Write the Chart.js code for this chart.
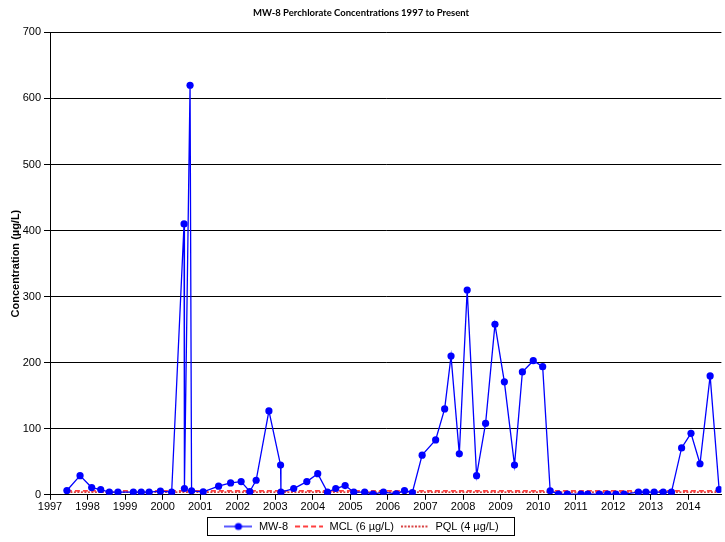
<!DOCTYPE html>
<html>
<head>
<meta charset="utf-8">
<script src="https://cdn.jsdelivr.net/npm/chart.js@4.4.1/dist/chart.umd.min.js"></script>
<style>
	html, body { margin: 0; padding: 0; background: #fff; }
</style>
</head>
<body>
<canvas id="mw8-chart" width="725" height="542"></canvas>
<script>
// sample dates as decimal years
const sampleDates = [
	1997.45, 1997.80, 1998.11, 1998.35, 1998.58, 1998.81, 1999.22, 1999.43, 1999.64, 1999.94,
	2000.24, 2000.57, 2000.58, 2000.73, 2000.77, 2001.08, 2001.49, 2001.81, 2002.09, 2002.32,
	2002.49, 2002.83, 2003.14, 2003.15, 2003.49, 2003.84, 2004.13, 2004.39, 2004.61, 2004.86,
	2005.09, 2005.38, 2005.60, 2005.88, 2006.22, 2006.44, 2006.65, 2006.91, 2007.27, 2007.51,
	2007.68, 2007.90, 2008.11, 2008.36, 2008.60, 2008.85, 2009.10, 2009.37, 2009.58, 2009.87,
	2010.12, 2010.32, 2010.54, 2010.78, 2011.14, 2011.32, 2011.63, 2011.85, 2012.07, 2012.29,
	2012.67, 2012.87, 2013.09, 2013.33, 2013.55, 2013.82, 2014.07, 2014.31, 2014.58, 2014.82
];
const mw8 = [
	6.5, 29, 11, 8, 4, 4, 4, 4, 4, 5.5,
	4, 410, 9.5, 620, 6, 4.5, 13, 18, 20, 5,
	22, 127, 45, 4, 9.5, 20, 32, 4, 9.5, 14,
	4, 4, 1, 4, 1.5, 6.5, 3.5, 60, 83, 130,
	210, 62, 310, 29, 108, 258, 171, 45, 186, 203,
	194, 6, 1, 1, 1, 1, 1, 1, 1, 1,
	4, 4, 4, 4, 4, 71, 93, 47, 180, 8
];
const mclLevel = 6;
const pqlLevel = 4;
const seriesNames = ['MW-8', 'MCL (6 µg/L)', 'PQL (4 µg/L)'];
const yearStart = 1997;
const yearEnd = 2014.88;

const firstDate = sampleDates[0];
const lastDate = sampleDates[sampleDates.length - 1];

// little canvases used as legend symbols
const legendSymbol = (color, dash, dot) => {
	const c = document.createElement('canvas');
	c.width = 28;
	c.height = 10;
	const ctx = c.getContext('2d');
	ctx.strokeStyle = color;
	ctx.lineWidth = 1.3;
	ctx.setLineDash(dash);
	ctx.beginPath();
	ctx.moveTo(0, 5);
	ctx.lineTo(28, 5);
	ctx.stroke();
	if (dot) {
		ctx.fillStyle = color;
		ctx.beginPath();
		ctx.arc(14, 5, 3.6, 0, Math.PI * 2);
		ctx.fill();
	}
	return c;
};
const symbols = [
	legendSymbol('#0000ff', [], true),
	legendSymbol('#ff0000', [5, 3], false),
	legendSymbol('#cc0000', [2, 1.5], false),
];

const legendFrame = {
	id: 'legendFrame',
	afterDraw(chart) {
		const boxes = chart.legend && chart.legend.legendHitBoxes;
		if (!boxes || !boxes.length) return;
		const ctx = chart.ctx;
		const left = Math.min(...boxes.map((b) => b.left)) - 16;
		const right = Math.max(...boxes.map((b) => b.left + b.width)) + 16;
		const top = boxes[0].top - 4;
		const bottom = boxes[0].top + boxes[0].height + 3;
		ctx.save();
		ctx.strokeStyle = '#000';
		ctx.lineWidth = 1;
		ctx.strokeRect(Math.round(left) + 0.5, Math.round(top) + 0.5, Math.round(right - left), Math.round(bottom - top));
		ctx.restore();
	},
};

new Chart(document.getElementById('mw8-chart'), {
	type: 'line',
	data: {
		datasets: [
			{
				label: seriesNames[0],
				data: sampleDates.map((d, i) => ({ x: d, y: mw8[i] })),
				borderColor: '#0000ff',
				backgroundColor: '#0000ff',
				borderWidth: 1.3,
				pointRadius: 3.6,
				pointBorderWidth: 0,
				pointHoverRadius: 3.6,
				tension: 0,
			},
			{
				label: seriesNames[1],
				data: [{ x: firstDate, y: mclLevel }, { x: lastDate, y: mclLevel }],
				borderColor: '#ff0000',
				backgroundColor: '#ff0000',
				borderWidth: 1.3,
				borderDash: [5, 3],
				pointRadius: 0,
			},
			{
				label: seriesNames[2],
				data: [{ x: firstDate, y: pqlLevel }, { x: lastDate, y: pqlLevel }],
				borderColor: '#cc0000',
				backgroundColor: '#cc0000',
				borderWidth: 1.3,
				borderDash: [2, 1.5],
				pointRadius: 0,
			},
		],
	},
	options: {
		responsive: false,
		animation: false,
		events: [],
		layout: {
			padding: { left: 0, right: 3, top: 0, bottom: 0 },
		},
		scales: {
			x: {
				type: 'linear',
				min: yearStart,
				max: yearEnd,
				border: { color: '#000', width: 1 },
				grid: {
					drawOnChartArea: false,
					drawTicks: true,
					tickLength: 5,
					color: '#000',
				},
				ticks: {
					stepSize: 1,
					includeBounds: false,
					autoSkip: false,
					maxRotation: 0,
					padding: 1,
					color: '#000',
					font: { family: 'Liberation Sans, Arial', size: 11 },
					callback: (v) => String(v),
				},
			},
			y: {
				min: 0,
				max: 700,
				afterFit: (scale) => {
					scale.width = 50;
				},
				border: { color: '#000', width: 1 },
				grid: {
					color: '#000',
					lineWidth: 1,
					tickLength: 6,
				},
				ticks: {
					stepSize: 100,
					padding: 3,
					color: '#000',
					font: { family: 'Liberation Sans, Arial', size: 11 },
				},
				title: {
					display: true,
					text: 'Concentration (µg/L)',
					color: '#000',
					padding: { top: 9, bottom: 0 },
					font: { family: 'Liberation Sans, Arial', size: 11, weight: 'bold' },
				},
			},
		},
		plugins: {
			title: {
				display: true,
				text: 'MW-8 Perchlorate Concentrations 1997 to Present',
				color: '#000',
				padding: { top: 7, bottom: 14 },
				font: { family: 'Lato, Liberation Sans, Arial', size: 9.5, weight: 'bold' },
			},
			legend: {
				position: 'bottom',
				labels: {
					color: '#000',
					usePointStyle: true,
					pointStyleWidth: 30,
					padding: 6,
					font: { family: 'Liberation Sans, Arial', size: 11 },
					generateLabels: (chart) => {
						const items = Chart.defaults.plugins.legend.labels.generateLabels(chart);
						items.forEach((item, i) => {
							item.pointStyle = symbols[i];
						});
						return items;
					},
				},
			},
			tooltip: { enabled: false },
		},
	},
	plugins: [legendFrame],
});
</script>
</body>
</html>
